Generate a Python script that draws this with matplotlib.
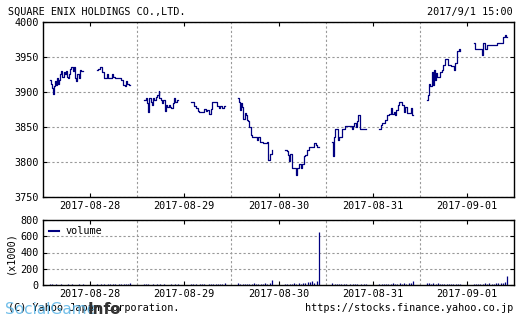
import numpy as np
import matplotlib.pyplot as plt

plt.rcParams['font.family'] = 'DejaVu Sans Mono'
plt.rcParams['font.size'] = 7.3

days = ['2017-08-28', '2017-08-29', '2017-08-30', '2017-08-31', '2017-09-01']

# minutes after 9:00, price (step data per session)
d1_am_t = [0, 7, 12, 15, 19, 24, 28, 33, 37, 42, 48, 52, 56, 62, 67, 72, 78, 82, 87, 91, 97, 102, 106, 111, 117, 123, 129, 135, 141, 150]
d1_am_p = [3917, 3912, 3905, 3897, 3908, 3915, 3910, 3920, 3912, 3917, 3925, 3930, 3922, 3928, 3925, 3930, 3922, 3920, 3925, 3933, 3936, 3930, 3936, 3920, 3915, 3925, 3920, 3932, 3930, 3930]
d1_pm_t = [210, 217, 225, 235, 244, 254, 261, 276, 283, 290, 315, 320, 327, 334, 338, 346, 352, 360]
d1_pm_p = [3932, 3933, 3936, 3928, 3920, 3925, 3920, 3925, 3922, 3920, 3920, 3917, 3910, 3908, 3915, 3912, 3910, 3910]

d2_am_t = [0, 8, 15, 20, 24, 30, 35, 41, 47, 53, 59, 65, 68, 74, 80, 86, 92, 98, 104, 110, 116, 122, 128, 134, 140, 146, 150]
d2_am_p = [3889, 3891, 3884, 3872, 3891, 3886, 3881, 3891, 3889, 3893, 3896, 3901, 3891, 3889, 3884, 3889, 3873, 3881, 3879, 3881, 3879, 3877, 3884, 3891, 3886, 3889, 3889]
d2_pm_t = [210, 217, 225, 232, 239, 247, 261, 268, 276, 283, 290, 298, 305, 320, 327, 334, 341, 349, 356, 360]
d2_pm_p = [3886, 3886, 3880, 3877, 3873, 3872, 3872, 3875, 3873, 3874, 3868, 3876, 3886, 3886, 3880, 3877, 3880, 3877, 3880, 3880]

d3_am_t = [0, 5, 9, 12, 17, 23, 29, 35, 41, 45, 50, 56, 62, 75, 83, 90, 98, 113, 125, 128, 131, 135, 140, 144, 149, 150]
d3_am_p = [3891, 3886, 3874, 3884, 3879, 3862, 3870, 3867, 3860, 3858, 3850, 3839, 3836, 3836, 3831, 3836, 3829, 3827, 3827, 3829, 3808, 3803, 3810, 3812, 3817, 3817]
d3_pm_t = [210, 217, 223, 228, 233, 238, 254, 258, 264, 270, 279, 284, 293, 299, 308, 317, 331, 337, 346, 352, 360]
d3_pm_p = [3817, 3815, 3810, 3802, 3812, 3791, 3791, 3781, 3791, 3797, 3791, 3797, 3808, 3810, 3817, 3821, 3821, 3827, 3824, 3821, 3821]

d4_am_t = [0, 5, 9, 14, 20, 24, 30, 38, 45, 56, 68, 80, 86, 92, 98, 104, 110, 116, 122, 135, 150]
d4_am_p = [3828, 3808, 3836, 3847, 3847, 3831, 3836, 3836, 3847, 3851, 3851, 3851, 3847, 3851, 3856, 3850, 3858, 3867, 3847, 3847, 3847]
d4_pm_t = [210, 217, 223, 229, 235, 244, 254, 261, 266, 273, 279, 285, 293, 299, 305, 311, 320, 326, 331, 341, 352, 356, 360]
d4_pm_p = [3847, 3853, 3856, 3855, 3860, 3867, 3869, 3877, 3869, 3872, 3867, 3874, 3881, 3886, 3885, 3881, 3872, 3879, 3870, 3870, 3877, 3867, 3867]

d5_am_t = [0, 5, 11, 17, 23, 27, 32, 38, 42, 47, 56, 62, 68, 75, 83, 95, 107, 116, 122, 128, 134, 138, 143, 149, 150]
d5_am_p = [3888, 3896, 3912, 3908, 3929, 3910, 3931, 3917, 3927, 3922, 3922, 3929, 3931, 3938, 3947, 3938, 3937, 3937, 3932, 3941, 3948, 3958, 3961, 3958, 3958]
d5_pm_t = [210, 217, 225, 244, 247, 251, 261, 268, 283, 305, 314, 334, 341, 349, 356, 360]
d5_pm_p = [3970, 3962, 3962, 3961, 3953, 3970, 3962, 3967, 3967, 3967, 3970, 3970, 3979, 3981, 3978, 3978]

sessions = [
    (0, d1_am_t, d1_am_p), (0, d1_pm_t, d1_pm_p),
    (1, d2_am_t, d2_am_p), (1, d2_pm_t, d2_pm_p),
    (2, d3_am_t, d3_am_p), (2, d3_pm_t, d3_pm_p),
    (3, d4_am_t, d4_am_p), (3, d4_pm_t, d4_pm_p),
    (4, d5_am_t, d5_am_p), (4, d5_pm_t, d5_pm_p),
]

# volume (x1000) every 10 minutes: 16 morning + 16 afternoon values per day
vol_t = [0, 10, 20, 30, 40, 50, 60, 70, 80, 90, 100, 110, 120, 130, 140, 150,
         210, 220, 230, 240, 250, 260, 270, 280, 290, 300, 310, 320, 330, 340, 350, 360]
vol_d1 = [12, 8, 6, 10, 5, 7, 4, 6, 8, 5, 9, 6, 4, 7, 5, 10, 14, 6, 8, 10, 5, 12, 9, 7, 11, 6, 10, 8, 12, 9, 15, 22]
vol_d2 = [18, 10, 8, 6, 9, 5, 7, 12, 6, 8, 5, 4, 9, 6, 8, 12, 15, 7, 9, 6, 10, 12, 8, 5, 14, 9, 18, 11, 10, 13, 16, 25]
vol_d3 = [20, 14, 10, 12, 16, 9, 15, 22, 12, 18, 10, 14, 25, 16, 30, 60, 18, 12, 10, 15, 22, 18, 25, 16, 20, 28, 40, 35, 50, 30, 45, 650]
vol_d4 = [25, 18, 12, 10, 9, 14, 8, 6, 10, 7, 12, 9, 6, 8, 10, 14, 12, 15, 10, 18, 9, 14, 20, 12, 16, 22, 14, 25, 18, 30, 20, 55]
vol_d5 = [30, 22, 18, 25, 14, 20, 12, 16, 10, 14, 18, 12, 8, 10, 12, 15, 18, 12, 15, 10, 14, 20, 16, 22, 12, 18, 25, 20, 28, 24, 35, 110]
volumes = [vol_d1, vol_d2, vol_d3, vol_d4, vol_d5]


def to_x(day, minutes):
    # each day spans 8:30 - 15:30 on one unit of the axis
    hours = 9 + np.asarray(minutes) / 60.0
    return day + (hours - 8.5) / 7.0


navy = '#000080'
grid_kw = dict(color='#999999', linestyle=(0, (2, 2)), linewidth=0.8)

fig = plt.figure(figsize=(5.21, 3.21), dpi=100)
ax = fig.add_axes([43 / 521, 1 - 197 / 321, 471 / 521, 175 / 321])
axv = fig.add_axes([43 / 521, 1 - 285 / 321, 471 / 521, 65 / 321])

for day, t, p in sessions:
    ax.step(to_x(day, t), p, where='post', color=navy, linewidth=0.9)

for day, v in enumerate(volumes):
    axv.vlines(to_x(day, vol_t), 0, v, color=navy, linewidth=0.9)

for a in (ax, axv):
    a.set_xlim(0, 5)
    a.set_xticks(np.arange(5) + 0.5)
    a.set_xticklabels(days)
    a.set_xticks(np.arange(1, 5), minor=True)
    a.tick_params(which='major', direction='in', length=3, top=True, right=True,
                  pad=3, labelsize=7.3)
    a.tick_params(which='minor', length=0)
    a.grid(which='minor', axis='x', **grid_kw)
    a.grid(which='major', axis='y', **grid_kw)
    for s in a.spines.values():
        s.set_linewidth(1.0)

ax.set_ylim(3750, 4000)
ax.set_yticks([3750, 3800, 3850, 3900, 3950, 4000])
axv.set_ylim(0, 800)
axv.set_yticks([0, 200, 400, 600, 800])
axv.set_ylabel('(x1000)', labelpad=4)
axv.plot([], [], color=navy, label='volume')
axv.legend(loc='upper left', frameon=False, handlelength=1.0, handletextpad=0.6,
           borderaxespad=0.2, fontsize=7.3)

fig.text(8 / 521, 1 - 12 / 321, 'SQUARE ENIX HOLDINGS CO.,LTD.', ha='left', va='center')
fig.text(513 / 521, 1 - 12 / 321, '2017/9/1 15:00', ha='right', va='center')
fig.text(8 / 521, 1 - 308 / 321, '(C) Yahoo Japan Corporation.', ha='left', va='center')
fig.text(513 / 521, 1 - 308 / 321, 'https://stocks.finance.yahoo.co.jp', ha='right', va='center')

# watermark laid over the copyright line, as in the source image
fig.text(5 / 521, 1 - 309 / 321, 'SocialGame', ha='left', va='center', family='DejaVu Sans',
         fontsize=11, color='#5ab4e6', alpha=0.85)
fig.text(88 / 521, 1 - 309 / 321, 'Info', ha='left', va='center', family='DejaVu Sans',
         fontsize=11, fontweight='bold', color='#333333')

fig.savefig('out.png', dpi=100)
